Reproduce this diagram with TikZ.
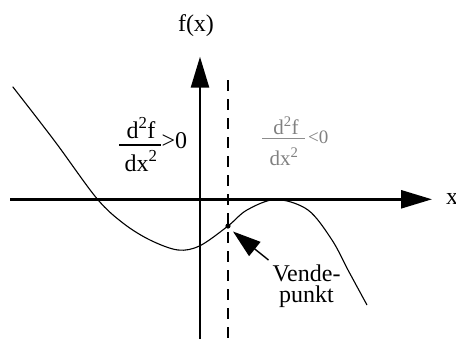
\documentclass[tikz,border=0pt]{standalone}
\usepackage{fontspec}
\setmainfont{Liberation Serif}
\usetikzlibrary{arrows.meta}
\begin{document}
\begin{tikzpicture}[x=1pt,y=-1pt,
  axisline/.style={line width=2.6pt,-{Triangle[length=31pt,width=18pt]}},
  pointer/.style={line width=1.4pt,-{Triangle[length=28pt,width=18pt]}},
  dashline/.style={line width=2.3pt,dash pattern=on 11pt off 8pt},
  curveline/.style={line width=1.1pt},
  txt/.style={inner sep=0pt,font=\fontsize{24}{21}\selectfont},
  smalltxt/.style={inner sep=0pt,font=\fontsize{21}{21}\selectfont,text=black!50},
  tinytxt/.style={inner sep=0pt,font=\fontsize{19}{19}\selectfont,text=black!50}]
\useasboundingbox (0,0) rectangle (456,341);
% axes
\coordinate (xs) at (10,199.3);
\coordinate (xe) at (432,199.3);
\coordinate (ys) at (200,339);
\coordinate (ye) at (200,56.7);
\draw[axisline] (xs) -- (xe);
\draw[axisline] (ys) -- (ye);
% dashed line through the inflection point
\coordinate (ds) at (228,80);
\coordinate (de) at (228,341);
\draw[dashline] (ds) -- (de);
% curve
\draw[curveline] plot[smooth,tension=0.55] coordinates {
  (12.7,86.7) (55,141.5) (96.7,198.3) (123.3,223.3) (150,240) (178,250)
  (200,245.7) (228,226) (247,210) (276,199.5) (308,210) (332,240)
  (348,270) (367,305)};
% inflection point
\coordinate (ip) at (228,226);
\fill (ip) circle (2.6pt);
% labels
\node[txt,anchor=base] (fx) at (196,31) {f(x)};
\node[txt,anchor=base west] (xl) at (446,204) {x};
% left fraction
\node[txt,anchor=base] (lnum) at (141,138) {d\textsuperscript{2}f};
\node[txt,anchor=base] (lden) at (141,171) {dx\textsuperscript{2}};
\coordinate (lb1) at (119,145);
\coordinate (lb2) at (161,145);
\draw[line width=2pt] (lb1) -- (lb2);
\node[txt,anchor=base west] (lgt) at (161.5,148) {>0};
% right fraction (grey)
\node[smalltxt,anchor=base] (rnum) at (286,134) {d\textsuperscript{2}f};
\node[smalltxt,anchor=base] (rden) at (284,165) {dx\textsuperscript{2}};
\coordinate (rb1) at (262,138.5);
\coordinate (rb2) at (305,138.5);
\draw[line width=1.6pt,black!45] (rb1) -- (rb2);
\node[tinytxt,anchor=base west] (rlt) at (308,143.5) {<0};
% Vendepunkt
\node[txt,align=center,anchor=north] (vende) at (306.5,264.2) {Vende-\\punkt};
\coordinate (ps) at (268.5,260);
\coordinate (pt) at (233,231.5);
\draw[pointer] (ps) -- (pt);
\end{tikzpicture}
\end{document}
